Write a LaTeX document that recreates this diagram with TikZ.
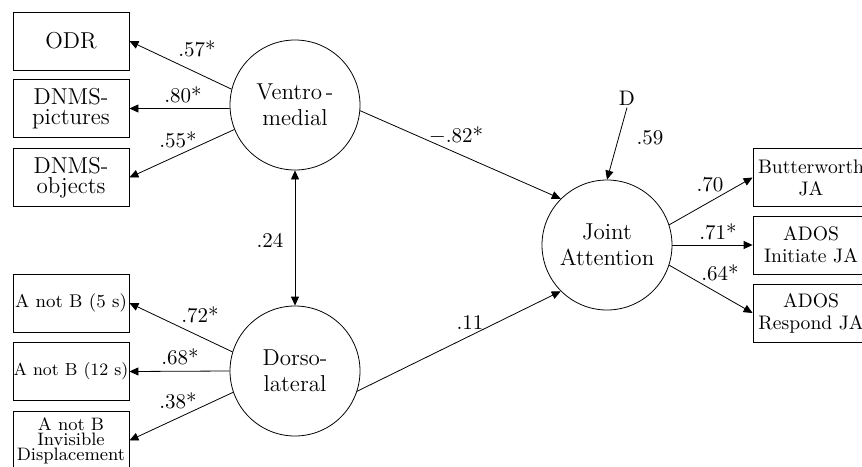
\documentclass[tikz,border=0pt]{standalone}
\usetikzlibrary{arrows.meta}

\begin{document}
\begin{tikzpicture}[x=0.5pt,y=-0.5pt,
	circ/.style={draw,circle,minimum size=65pt,inner sep=0pt,align=center,font=\fontsize{11.5}{13}\selectfont},
	box/.style={draw,rectangle,minimum width=58pt,minimum height=29pt,inner sep=1pt,align=center,font=\fontsize{11.5}{10}\selectfont},
	lbl/.style={inner sep=1pt,font=\fontsize{10.5}{12}\selectfont},
	arr/.style={-{Triangle[length=4.5pt,width=4pt]}},
	darr/.style={{Triangle[length=4.5pt,width=4pt]}-{Triangle[length=4.5pt,width=4pt]}}]
	\useasboundingbox (0,0) rectangle (862,466);
	% latent factors
	\node[circ] (vm) at (295,105){Ventro\,-\\medial};
	\node[circ] (dl) at (295,371){Dorso-\\lateral};
	\node[circ] (ja) at (607,245){Joint\\Attention};
	% indicators
	\node[box,font=\fontsize{9.2}{10}\selectfont] (anb5) at (71,303){A not B (5 s)};
	\node[box,inner sep=0pt,font=\fontsize{8.7}{10}\selectfont] (anb12) at (71,371.5){A not B (12 s)};
	\node[box,font=\fontsize{9}{7.5}\selectfont] (anbinv) at (71,440.5){A not B\\Invisible\\Displacement};
	\node[box] (odr) at (71,41){ODR};
	\node[box] (pict) at (71,108.5){DNMS-\\pictures};
	\node[box] (obj) at (71,177.5){DNMS-\\objects};
	\node[box,font=\fontsize{9.8}{11}\selectfont] (bw) at (811,177.5){Butterworth\\JA};
	\node[box,font=\fontsize{9.8}{11}\selectfont] (adosi) at (811,245){ADOS\\Initiate JA};
	\node[box,font=\fontsize{9.8}{11}\selectfont] (adosr) at (811,313){ADOS\\Respond JA};
	\node[lbl] (D) at (627,98){D};
	% loadings and paths
	\draw 	(vm.166) edge[arr] (odr.east)
	(vm.183) edge[arr] (pict.east)
	(vm.202) edge[arr] (obj.east)
	(dl.163) edge[arr] (anb5.east)
	(dl.180) edge[arr] (anb12.east)
	(dl.199) edge[arr] (anbinv.east)
	(vm.south) edge[darr] (dl.north)
	(vm.-5) edge[arr] (ja.135)
	(dl.-18) edge[arr] (ja.225)
	(ja.18) edge[arr] (bw.west)
	(ja.0) edge[arr] (adosi.west)
	(ja.-18) edge[arr] (adosr.west)
	(D.south) edge[arr] (ja.north);
	% coefficients
	\node[lbl] (l1) at (197,49){.57*};
	\node[lbl] (l2) at (183,95){.80*};
	\node[lbl] (l3) at (178,140){.55*};
	\node[lbl] (l4) at (270,240){.24};
	\node[lbl] (l5) at (200,315){.72*};
	\node[lbl] (l6) at (180,357){.68*};
	\node[lbl] (l7) at (178,401){.38*};
	\node[lbl] (l8) at (456,136){$-$.82*};
	\node[lbl] (l9) at (470,323){.11};
	\node[lbl] (l10) at (650,138){.59};
	\node[lbl] (l11) at (710,185){.70};
	\node[lbl] (l12) at (718,232){.71*};
	\node[lbl] (l13) at (720,273){.64*};
\end{tikzpicture}
\end{document}
